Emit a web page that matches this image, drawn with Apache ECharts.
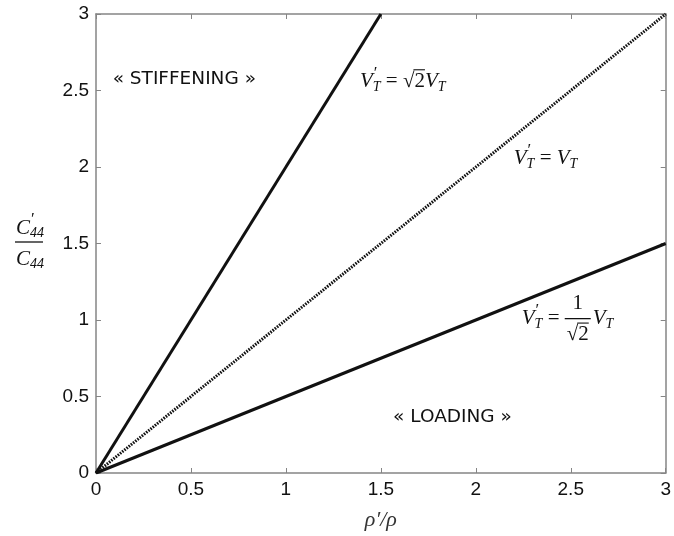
<!DOCTYPE html>
<html><head><meta charset="utf-8">
<script src="https://cdn.jsdelivr.net/npm/echarts@6/dist/echarts.min.js"></script>
<style>html,body{margin:0;padding:0;background:#fff}#c{width:674px;height:536px}</style>
</head><body><div id="c"></div>
<script>
// ---- data ----
const steepX = [0, 1.5], steepY = [0, 3];     // V'T = sqrt2 VT
const equalX = [0, 3],   equalY = [0, 3];     // V'T = VT
const lowX   = [0, 3],   lowY   = [0, 1.5];   // V'T = VT/sqrt2
const axisMin = 0, axisMax = 3, tickStep = 0.5;
const regionLabels = ['« STIFFENING »', '« LOADING »'];
const xTitle = 'ρ′/ρ';

function pts(xs, ys) { return xs.map((x, i) => [x, ys[i]]); }

const chart = echarts.init(document.getElementById('c'), null, {renderer: 'canvas'});
const axisGray = '#858585';
function axisBase(extra) {
  return Object.assign({
    type: 'value', min: axisMin, max: axisMax, interval: tickStep,
    splitLine: {show: false},
    axisLine: {show: true, onZero: false, lineStyle: {color: axisGray, width: 1.5}},
    axisTick: {show: true, inside: true, length: 5, lineStyle: {color: axisGray, width: 1}},
    axisLabel: {color: '#111', fontFamily: 'Liberation Sans', fontSize: 19, margin: 7}
  }, extra);
}
const option = {
  animation: false,
  grid: {left: 96, right: 4, top: 14, bottom: 58, containLabel: false},
  xAxis: [
    axisBase({position: 'bottom', name: xTitle, nameLocation: 'middle', nameGap: 36,
      nameTextStyle: {fontFamily: 'Liberation Serif', fontStyle: 'italic', fontSize: 22, color: '#333'}}),
    axisBase({position: 'top', axisLabel: {show: false}})
  ],
  yAxis: [
    axisBase({position: 'left'}),
    axisBase({position: 'right', axisLabel: {show: false}})
  ],
  series: [
    {type: 'line', data: pts(steepX, steepY), symbol: 'none', lineStyle: {color: '#111', width: 3}},
    {type: 'line', data: pts(equalX, equalY), symbol: 'none', lineStyle: {color: '#111', width: 3, type: [1.6, 1.2]}},
    {type: 'line', data: pts(lowX, lowY), symbol: 'none', lineStyle: {color: '#111', width: 3}}
  ]
};
chart.setOption(option);

// ---- annotations ----
const ctx = document.createElement('canvas').getContext('2d');
const SERIF = 'Liberation Serif';
function measure(t, size, italic, fam) {
  ctx.font = (italic ? 'italic ' : '') + size + 'px "' + (fam || SERIF) + '"';
  return ctx.measureText(t).width;
}
function txt(x, y, t, size, italic, fam, align) {
  return {type: 'text', x: x, y: y, silent: true,
    style: {text: t, fill: '#111', font: (italic ? 'italic ' : '') + size + 'px "' + (fam || SERIF) + '"',
      textAlign: align || 'left', textVerticalAlign: 'middle'}};
}
function layout(x, y, tokens, out) {
  let cx = x;
  tokens.forEach(tk => {
    if (tk.frac) {
      const s = tk.size || 21;
      const wn = measure(tk.frac[0], s, false), wd = measure(tk.frac[1], s, false);
      const w = Math.max(wn, wd) + 4;
      out.push(txt(cx + w / 2, y - 15, tk.frac[0], s, false, null, 'center'));
      out.push(txt(cx + w / 2, y + 16, tk.frac[1], s, false, null, 'center'));
      out.push({type: 'line', silent: true, shape: {x1: cx, y1: y, x2: cx + w, y2: y}, style: {stroke: '#111', lineWidth: 1.3}});
      if (tk.frac[1].startsWith('√')) {
        const rw = measure('√', s, false), tw = wd;
        const x0 = cx + w / 2 - tw / 2 + rw - 1;
        out.push({type: 'line', silent: true, shape: {x1: x0, y1: y + 16 - s * 0.55, x2: cx + w / 2 + tw / 2, y2: y + 16 - s * 0.55}, style: {stroke: '#111', lineWidth: 1.1}});
      }
      cx += w + 2;
      return;
    }
    const s = tk.size || 21;
    const w = measure(tk.t, s, tk.i);
    out.push(txt(cx + (tk.dx || 0), y + (tk.dy || 0), tk.t, s, tk.i));
    if (tk.over) {
      const rw = measure('√', s, false);
      out.push({type: 'line', silent: true, shape: {x1: cx + rw - 1, y1: y - s * 0.55, x2: cx + w, y2: y - s * 0.55}, style: {stroke: '#111', lineWidth: 1.1}});
    }
    if (!tk.noAdv) cx += w + (tk.gap || 0);
  });
  return cx;
}
const VT = [{t: 'V', i: true}, {t: '′', size: 17, dx: 1, dy: -8, noAdv: true}, {t: 'T', size: 14, i: true, dy: 6}];
const VTs = [{t: 'V', i: true}, {t: 'T', size: 14, i: true, dy: 6}];
const EQ = [{t: ' = '}];

function draw() {
  const g = [];
  const P = (x, y) => chart.convertToPixel({xAxisIndex: 0, yAxisIndex: 0}, [x, y]);
  let p = P(1.39, 2.56);
  layout(p[0], p[1], [].concat(VT, EQ, [{t: '√2', over: true}], VTs), g);
  p = P(2.2, 2.056);
  layout(p[0], p[1], [].concat(VT, EQ, VTs), g);
  p = P(2.242, 1.009);
  layout(p[0], p[1], [].concat(VT, EQ, [{frac: ['1', '√2']}], VTs), g);
  p = P(0.465, 2.573);
  g.push(txt(p[0], p[1], regionLabels[0], 18.5, false, 'DejaVu Sans', 'center'));
  p = P(1.877, 0.362);
  g.push(txt(p[0], p[1], regionLabels[1], 18.5, false, 'DejaVu Sans', 'center'));
  const ly = 242;
  g.push({type: 'line', silent: true, shape: {x1: 15, y1: ly, x2: 43, y2: ly}, style: {stroke: '#111', lineWidth: 1.3}});
  layout(16, ly - 14, [{t: 'C', i: true}, {t: '′', size: 17, dx: 1, dy: -8, noAdv: true}, {t: '44', size: 14, i: true, dy: 5}], g);
  layout(16, ly + 17, [{t: 'C', i: true}, {t: '44', size: 14, i: true, dy: 5}], g);
  chart.setOption({graphic: {elements: g}});
}
draw();
</script>
</body></html>
